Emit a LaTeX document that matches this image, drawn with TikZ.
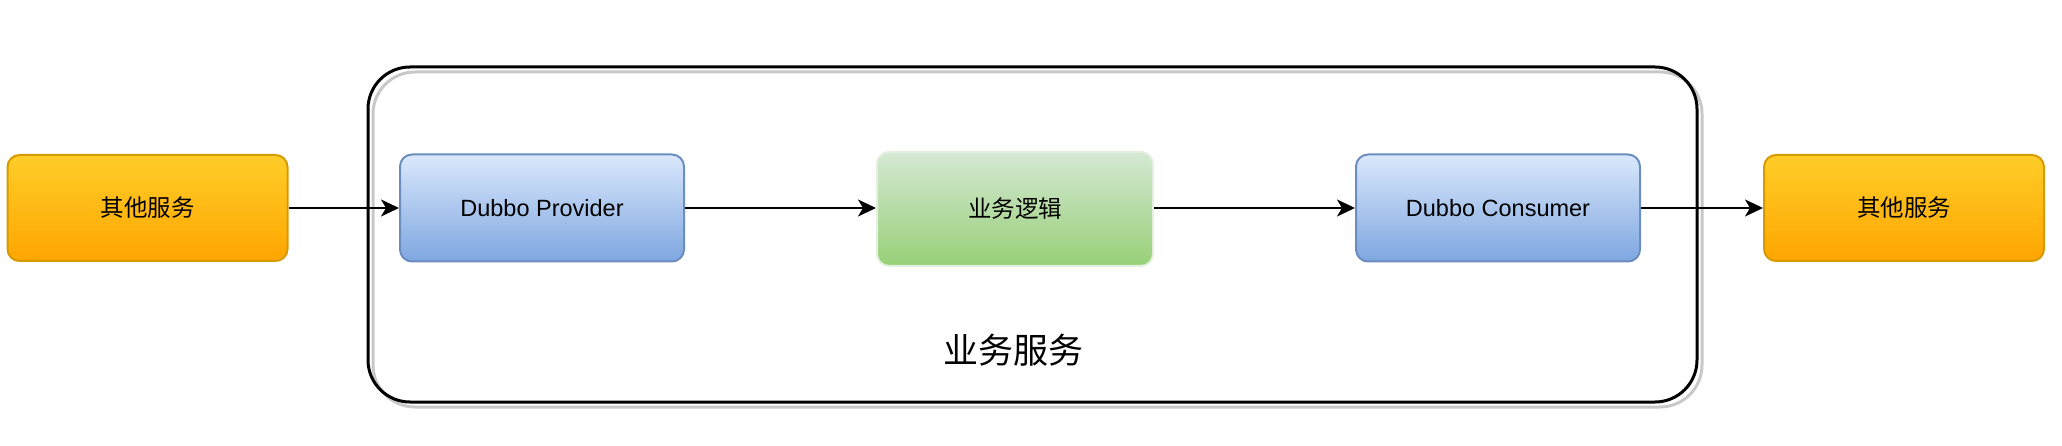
\documentclass[tikz,border=0pt]{standalone}
\usepackage{fontspec}
\setmainfont{Liberation Sans}
\newfontfamily\cjk{Noto Sans CJK SC}
\usetikzlibrary{arrows.meta}
\definecolor{orTop}{HTML}{FFCD28}
\definecolor{orBot}{HTML}{FFA500}
\definecolor{orLine}{HTML}{D79B00}
\definecolor{blTop}{HTML}{DAE8FC}
\definecolor{blBot}{HTML}{7EA6E0}
\definecolor{blLine}{HTML}{6C8EBF}
\definecolor{grTop}{HTML}{D5E8D4}
\definecolor{grBot}{HTML}{97D077}
\definecolor{grLine}{HTML}{E4F0DF}
\definecolor{shadowGray}{HTML}{C8C8C8}
\tikzset{
  boxbase/.style={rounded corners=12pt, inner sep=0pt, line width=2pt,
    font=\fontsize{23.5}{28}\selectfont, text=black},
  orangebox/.style={boxbase, top color=orTop, bottom color=orBot, draw=orLine,
    minimum width=280pt, minimum height=106pt},
  bluebox/.style={boxbase, top color=blTop, bottom color=blBot, draw=blLine,
    minimum width=284pt, minimum height=107pt},
  greenbox/.style={boxbase, top color=grTop, bottom color=grBot, draw=grLine,
    minimum width=276pt, minimum height=114pt},
  container/.style={draw=black, line width=3pt, rounded corners=42pt,
    minimum width=1329pt, minimum height=335pt, inner sep=0pt},
  arr/.style={line width=2pt, -{Stealth[length=18pt, width=17pt, inset=5pt]}},
}
\begin{document}
\begin{tikzpicture}[x=1pt, y=-1pt]
\useasboundingbox (0,0) rectangle (2062,446);
% shadow stroke of container
\draw[shadowGray, line width=3pt, rounded corners=42pt] (373,72) rectangle (1702,407);
\node[container] (svc) at (1032.5,234.5) {};
\node[font=\cjk\fontsize{35}{40}\selectfont] (svclabel) at (1013,350) {业务服务};

\node[orangebox, font=\cjk\fontsize{23.5}{28}\selectfont] (o1) at (147.5,208) {其他服务};
\node[bluebox] (prov) at (542,208) {Dubbo Provider};
\node[greenbox, font=\cjk\fontsize{23.5}{28}\selectfont] (logic) at (1015,209) {业务逻辑};
\node[bluebox] (cons) at (1498,208) {Dubbo Consumer};
\node[orangebox, font=\cjk\fontsize{23.5}{28}\selectfont] (o2) at (1904,208) {其他服务};

\draw[arr] (o1.east) -- (prov.west);
\draw[arr] (prov.east) -- (logic.west |- prov.east);
\draw[arr] (logic.east |- cons.west) -- (cons.west);
\draw[arr] (cons.east) -- (o2.west);
\end{tikzpicture}
\end{document}
